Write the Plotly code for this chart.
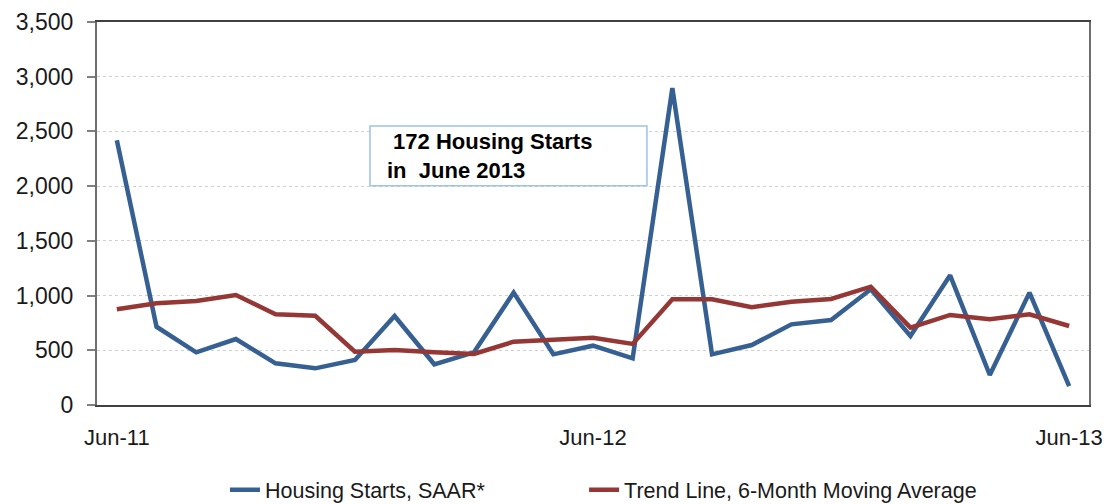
import plotly.graph_objects as go

months = ["Jun-11", "Jul-11", "Aug-11", "Sep-11", "Oct-11", "Nov-11", "Dec-11",
          "Jan-12", "Feb-12", "Mar-12", "Apr-12", "May-12", "Jun-12",
          "Jul-12", "Aug-12", "Sep-12", "Oct-12", "Nov-12", "Dec-12",
          "Jan-13", "Feb-13", "Mar-13", "Apr-13", "May-13", "Jun-13"]

housing_starts = [2420, 715, 481, 603, 381, 335, 411, 813, 372, 481, 1027, 463, 542,
                  427, 2895, 463, 548, 737, 777, 1057, 631, 1185, 274, 1027, 172]

trend_line = [875, 930, 951, 1005, 829, 816, 487, 503, 481, 466, 579, 594, 615,
              558, 966, 966, 893, 944, 969, 1081, 707, 823, 783, 829, 722]

x_ticks = ["Jun-11", "Jun-12", "Jun-13"]
y_ticks = [0, 500, 1000, 1500, 2000, 2500, 3000, 3500]
y_tick_text = ["0", "500", "1,000", "1,500", "2,000", "2,500", "3,000", "3,500"]

BLUE = "#376092"
RED = "#953735"
FONT = "Liberation Sans, Arial, sans-serif"

fig = go.Figure()
fig.add_trace(go.Scatter(x=months, y=housing_starts, mode="lines",
                         name="Housing Starts, SAAR*", legend="legend",
                         line=dict(color=BLUE, width=4.5)))
fig.add_trace(go.Scatter(x=months, y=trend_line, mode="lines",
                         name="Trend Line, 6-Month Moving Average", legend="legend2",
                         line=dict(color=RED, width=4.5)))

# annotation box
fig.add_shape(type="rect", xref="paper", yref="paper",
              x0=0.2752, x1=0.5544, y0=0.5726, y1=0.7285,
              line=dict(color="#9DC3E6", width=1.5), fillcolor="white", layer="above")
fig.add_annotation(xref="paper", yref="paper", x=0.2903, y=0.6505,
                   xanchor="left", yanchor="middle", align="left", showarrow=False,
                   text="<b>\u00a0172 Housing Starts<br>in\u00a0\u00a0June 2013</b>",
                   font=dict(family=FONT, size=22, color="black"))

legend_font = dict(family=FONT, size=21.5, color="#1a1a1a")

fig.update_layout(
    width=1113, height=504,
    margin=dict(l=97, r=24, t=22, b=99, autoexpand=False),
    paper_bgcolor="white", plot_bgcolor="white",
    font=dict(family=FONT, color="#1a1a1a"),
    showlegend=True,
    legend=dict(orientation="h", x=0.129, xanchor="left", y=-0.168, yanchor="top",
                font=legend_font, bgcolor="rgba(0,0,0,0)"),
    legend2=dict(orientation="h", x=0.491, xanchor="left", y=-0.168, yanchor="top",
                 font=legend_font, bgcolor="rgba(0,0,0,0)"),
    xaxis=dict(type="category", categoryorder="array", categoryarray=months,
               range=[-0.5, 24.5], tickmode="array", tickvals=x_ticks, ticktext=x_ticks,
               showgrid=False, ticks="", ticklabelstandoff=12, automargin=False,
               showline=True, linecolor="#404040", linewidth=2, mirror=True,
               tickfont=dict(family=FONT, size=22, color="#1a1a1a"), zeroline=False),
    yaxis=dict(range=[0, 3500], tickmode="array", tickvals=y_ticks, ticktext=y_tick_text,
               showgrid=True, gridcolor="#D0D0D0", griddash="dot", gridwidth=1,
               ticks="outside", ticklen=8, tickcolor="#808080", tickwidth=1.5,
               ticklabelstandoff=9, automargin=False,
               showline=True, linecolor="#6f6f6f", linewidth=2, mirror=True,
               tickfont=dict(family=FONT, size=23, color="#1a1a1a"), zeroline=False),
)

fig.write_html("out.html", config={"displayModeBar": False},
               post_script="document.body.style.margin='0';")
